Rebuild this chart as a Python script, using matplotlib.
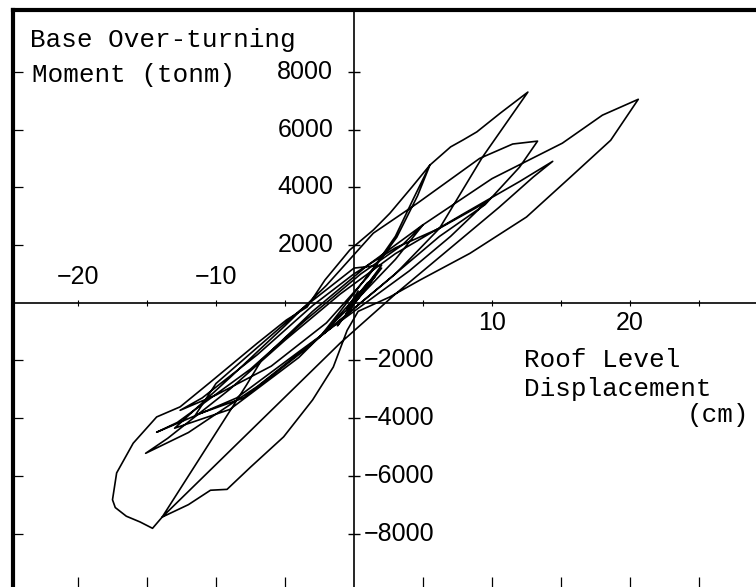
import matplotlib
matplotlib.use("Agg")
import matplotlib.pyplot as plt
import numpy as np

# roof displacement (cm) / base over-turning moment (tonm), traced in time order
small_x = [0.0, 0.8, -0.6, 1.5, -1.2, 2.0, -2.5]
small_y = [0, 500, -400, 900, -800, 1200, -1200]

# up to first corner peak, back to the first negative hook
cyc1_x = [-1.0, 1.4, 3.0, 4.3, 5.5, 4.6, 3.1, 1.0, -2.0, -6.0, -10.0, -12.6]
cyc1_y = [-300, 1200, 2300, 3600, 4770, 3700, 2270, 900, -700, -2200, -3200, -3730]

# small peak E, then down to second left tip
cyc2_x = [-11.0, -7.0, -3.0, 0.0, 3.0, 6.2, 9.6, 7.0, 4.0, 0.0, -4.0, -8.5, -14.3]
cyc2_y = [-3300, -1800, -100, 1000, 1900, 2580, 3490, 2300, 1100, -300, -1700, -3300, -4490]

# medium cycle inside the band
cyc2b_x = [-12.8, -7.5, -3.5, 0.5, 3.5, 5.0, 3.0, 0.0, -4.0, -9.0, -13.0]
cyc2b_y = [-4150, -2300, -600, 1000, 2000, 2700, 1500, 0, -1900, -3700, -4350]

# peak C and third left tip
cyc3_x = [-9.0, -5.0, -2.0, 1.4, 4.6, 9.1, 11.5, 13.3, 12.0, 9.5, 6.2, 2.0, -2.0, -7.0, -12.0, -15.1]
cyc3_y = [-2600, -800, 600, 2410, 3450, 5000, 5500, 5600, 4700, 3400, 2300, 600, -1000, -2900, -4500, -5220]

# peak D, then straight drop to the big negative vertex
cyc4_x = [-13.5, -9.0, -5.0, -1.0, 3.0, 8.0, 12.0, 14.4, 13.0, 10.5, 7.0, 3.0, -1.0, -13.9]
cyc4_y = [-4700, -3000, -1300, 300, 1700, 3100, 4200, 4900, 4360, 3300, 1900, 300, -1400, -7430]

# largest positive excursion B and outer unloading branch
cyc5_x = [-7.8, -6.7, -3.0, 1.0, 5.0, 10.0, 15.1, 18.0, 20.6, 18.6, 15.7, 12.5, 8.4, 4.8, 2.6,
          0.3, -0.5, -1.5, -3.0, -5.1, -7.5, -9.2, -10.4, -12.0, -13.9]
cyc5_y = [-2860, -1990, -300, 1300, 2700, 4300, 5530, 6500, 7050, 5630, 4360, 2970, 1710, 790, 200,
          -300, -960, -2230, -3370, -4650, -5700, -6470, -6500, -7000, -7430]

# bottom bulge, upper-left envelope, peak A
cyc6_x = [-14.6, -15.5, -16.5, -17.3, -17.5, -17.2, -16.0, -14.3, -12.6, -10.4, -7.0, -4.9, -3.4,
          -2.1, -0.3, 1.4, 2.6, 4.2, 5.5, 7.0, 7.9, 8.9, 10.6, 12.6]
cyc6_y = [-7820, -7600, -7400, -7100, -6830, -5900, -4870, -3960, -3610, -2750, -1400, -600, -150,
          790, 1830, 2520, 3100, 4010, 4770, 5400, 5640, 5920, 6570, 7300]

# final unloading and small cycles near the origin
cyc7_x = [9.3, 6.2, 3.0, 0.0, -4.0, -8.0, -11.5, -10.0, -4.0, 0.0, 2.0, 0.0, 1.0, -0.5, 0.3]
cyc7_y = [5040, 2580, 1000, -200, -1800, -3300, -3900, -2800, -300, 1200, 1300, 0, 700, -200, 400]

disp = np.concatenate([small_x, cyc1_x, cyc2_x, cyc2b_x, cyc3_x, cyc4_x, cyc5_x, cyc6_x, cyc7_x])
moment = np.concatenate([small_y, cyc1_y, cyc2_y, cyc2b_y, cyc3_y, cyc4_y, cyc5_y, cyc6_y, cyc7_y])

x_ticks = [-20, -15, -10, -5, 5, 10, 15, 20, 25]
y_ticks = [-8000, -6000, -4000, -2000, 2000, 4000, 6000, 8000]
x_labels = [-20, -10, 10, 20]
y_labels = [-8000, -6000, -4000, -2000, 2000, 4000, 6000, 8000]

W, H = 756, 587
fig = plt.figure(figsize=(W / 100, H / 100), dpi=100)
rect = [13 / W, 0, (W - 13) / W, (H - 10) / H]
xlim = (-24.71, 29.13)
ylim = (-9854, 10145)

# outer frame: thick left and top border, ticks pointing inward
ax = fig.add_axes(rect)
ax.set_xlim(xlim)
ax.set_ylim(ylim)
ax.spines['left'].set_linewidth(3)
ax.spines['top'].set_linewidth(3)
ax.spines['right'].set_visible(False)
ax.spines['bottom'].set_visible(False)
ax.set_xticks(x_ticks)
ax.set_yticks(y_ticks)
ax.tick_params(axis='both', direction='in', length=7, width=0.9, labelbottom=False, labelleft=False)

# axes through the origin
ax0 = fig.add_axes(rect, facecolor='none')
ax0.set_xlim(xlim)
ax0.set_ylim(ylim)
for s in ['top', 'right']:
    ax0.spines[s].set_visible(False)
ax0.spines['left'].set_position(('data', 0))
ax0.spines['bottom'].set_position(('data', 0))
ax0.spines['left'].set_linewidth(1.2)
ax0.spines['bottom'].set_linewidth(1.2)
ax0.set_xticks(x_ticks)
ax0.set_yticks(y_ticks)
ax0.tick_params(axis='x', direction='inout', length=5, width=0.8, labelbottom=False)
ax0.tick_params(axis='y', direction='inout', length=9, width=1.0, labelleft=False)

ax0.plot(disp, moment, color='black', lw=1.2, solid_joinstyle='round', zorder=5)

num_font = dict(family='Liberation Sans', fontsize=18)
for v in y_labels:
    if v > 0:
        ax0.text(-1.5, v, str(v), ha='right', va='center', **num_font)
    else:
        ax0.text(0.7, v, str(v).replace('-', '\u2212'), ha='left', va='center', **num_font)
for v in x_labels:
    if v < 0:
        ax0.text(v, 900, str(v).replace('-', '\u2212'), ha='center', va='center', **num_font)
    else:
        ax0.text(v, -700, str(v), ha='center', va='center', **num_font)

mono = dict(family='Liberation Mono', fontsize=18.7)
fig.text(30 / W, 1 - 47 / H, 'Base Over-turning', ha='left', va='baseline', **mono)
fig.text(32 / W, 1 - 82 / H, 'Moment (tonm)', ha='left', va='baseline', **mono)
fig.text(524 / W, 1 - 367 / H, 'Roof Level', ha='left', va='baseline', **mono)
fig.text(524 / W, 1 - 396 / H, 'Displacement', ha='left', va='baseline', **mono)
fig.text(749 / W, 1 - 422 / H, '(cm)', ha='right', va='baseline', **mono)

fig.savefig('out.png', dpi=100)
